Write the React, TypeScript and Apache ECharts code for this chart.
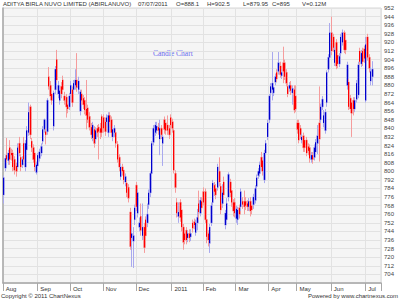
import React, { useEffect, useRef } from "react";
import * as echarts from "echarts";

// Month tick labels (Jan is shown as the year)
const MONTHS = ["Aug", "Sep", "Oct", "Nov", "Dec", "2011", "Feb", "Mar", "Apr", "May", "Jun", "Jul"];

// Daily candles per month: [open, close, low, high]
const AUG = [
  [778, 794, 770, 796], [803, 812, 800, 815], [815, 811, 808, 831], [810, 817, 806, 820],
  [822, 811, 806, 829], [817, 815, 810, 821], [817, 804, 800, 820], [811, 801, 797, 814],
  [805, 800, 795, 808], [804, 822, 802, 826], [826, 817, 814, 832], [813, 804, 800, 816],
  [806, 811, 803, 814], [826, 811, 808, 832], [804, 826, 800, 829], [820, 838, 818, 842],
  [836, 855, 833, 864], [860, 834, 830, 862], [828, 822, 818, 831], [822, 811, 808, 825],
  [817, 804, 800, 820], [799, 806, 797, 809],
];
const SEP = [
  [805, 815, 800, 817], [812, 818, 809, 821], [817, 823, 814, 826], [828, 839, 825, 842],
  [839, 848, 836, 849], [837, 834, 825, 840], [837, 866, 834, 868], [888, 879, 876, 897],
  [880, 870, 866, 884], [872, 866, 862, 876], [842, 873, 838, 875], [876, 895, 872, 898],
  [904, 885, 882, 913], [872, 880, 868, 884], [866, 875, 862, 878], [879, 872, 868, 883],
  [885, 876, 873, 889], [870, 866, 862, 874], [869, 860, 850, 872], [862, 858, 854, 866],
  [860, 870, 857, 873],
];
const OCT = [
  [872, 880, 868, 884], [876, 864, 860, 879], [876, 882, 872, 885], [880, 885, 876, 895],
  [885, 878, 874, 910], [876, 884, 872, 888], [856, 874, 852, 876], [872, 866, 862, 876],
  [868, 862, 858, 871], [866, 857, 853, 869], [858, 852, 839, 885], [859, 848, 845, 862],
  [851, 841, 838, 855], [841, 834, 830, 845], [831, 843, 828, 846], [839, 826, 822, 842],
  [830, 838, 826, 841], [840, 836, 832, 843], [841, 837, 811, 844], [840, 836, 830, 845],
  [851, 836, 832, 853],
];
const NOV = [
  [850, 840, 836, 853], [846, 837, 833, 850], [846, 850, 842, 853], [836, 852, 832, 855],
  [852, 846, 842, 855], [848, 836, 832, 851], [832, 839, 828, 842], [836, 840, 832, 843],
  [836, 826, 822, 839], [825, 811, 808, 828], [813, 804, 800, 816], [795, 804, 792, 807],
  [804, 800, 796, 807], [801, 792, 788, 804], [790, 795, 786, 798], [789, 780, 776, 792],
  [785, 775, 771, 788], [762, 730, 727, 766], [738, 742, 711, 755], [735, 740, 710, 748],
  [755, 766, 750, 769],
];
const DEC = [
  [787, 767, 763, 790], [761, 780, 757, 783], [748, 752, 744, 757], [758, 745, 740, 770],
  [740, 748, 736, 770], [748, 729, 724, 752], [755, 740, 736, 758], [752, 760, 748, 770],
  [769, 780, 765, 783], [780, 798, 776, 800], [798, 826, 795, 828], [827, 840, 824, 843],
  [836, 843, 833, 846], [838, 842, 835, 846], [841, 838, 834, 845], [830, 840, 815, 848],
  [840, 834, 830, 843], [826, 832, 805, 834], [848, 839, 835, 851], [845, 838, 834, 848],
  [843, 838, 834, 852], [840, 834, 830, 843], [850, 843, 840, 853],
];
const JAN = [
  [846, 840, 836, 849], [838, 801, 798, 840], [798, 785, 780, 801], [771, 761, 757, 775],
  [758, 762, 752, 771], [771, 757, 753, 774], [764, 748, 744, 767], [748, 734, 727, 751],
  [742, 736, 732, 746], [745, 736, 732, 748], [738, 742, 734, 745], [742, 738, 734, 746],
  [739, 742, 735, 746], [752, 747, 743, 755], [753, 750, 746, 756], [743, 752, 740, 755],
  [752, 757, 745, 765], [770, 762, 755, 782], [761, 773, 758, 776], [772, 766, 762, 776],
];
const FEB = [
  [781, 771, 768, 785], [781, 755, 752, 784], [755, 739, 733, 758], [742, 736, 730, 745],
  [733, 748, 724, 751], [752, 768, 749, 771], [771, 789, 768, 792], [787, 781, 777, 790],
  [784, 778, 774, 788], [785, 804, 782, 807], [800, 790, 786, 813], [786, 764, 760, 789],
  [770, 780, 766, 788], [790, 778, 774, 795], [750, 761, 746, 764], [755, 770, 752, 775],
  [776, 797, 772, 799], [790, 780, 776, 793], [782, 771, 767, 785], [771, 763, 758, 774],
  [771, 761, 757, 775],
];
const MAR = [
  [756, 765, 752, 768], [755, 764, 750, 767], [766, 760, 756, 769], [767, 781, 763, 784],
  [772, 769, 765, 776], [772, 767, 760, 782], [772, 768, 764, 776], [770, 767, 763, 773],
  [767, 772, 763, 775], [772, 763, 758, 776], [768, 764, 760, 771], [769, 776, 765, 779],
  [773, 784, 770, 787], [786, 794, 783, 797], [796, 800, 793, 803], [798, 806, 795, 809],
  [813, 804, 800, 818], [810, 800, 796, 813], [792, 817, 789, 820], [817, 826, 814, 829],
  [832, 845, 829, 848],
];
const APR = [
  [848, 870, 845, 872], [873, 879, 870, 882], [876, 882, 866, 911], [873, 878, 870, 881],
  [883, 888, 880, 891], [892, 886, 883, 895], [893, 901, 890, 911], [898, 890, 887, 902],
  [889, 892, 886, 895], [901, 893, 882, 916], [901, 888, 885, 904], [892, 882, 879, 895],
  [879, 872, 869, 882], [877, 880, 874, 883], [880, 875, 871, 884], [873, 877, 862, 880],
  [876, 857, 854, 880], [870, 858, 855, 880],
];
const MAY = [
  [845, 839, 835, 848], [845, 829, 826, 848], [840, 834, 830, 843], [829, 832, 826, 835],
  [833, 822, 818, 836], [829, 822, 818, 832], [829, 817, 814, 832], [823, 819, 815, 826],
  [822, 812, 808, 825], [811, 815, 808, 818], [815, 811, 807, 818], [813, 822, 810, 825],
  [818, 827, 815, 830], [826, 833, 816, 843], [845, 830, 809, 879], [848, 860, 845, 863],
  [860, 867, 857, 870], [845, 852, 841, 857], [838, 855, 835, 858], [864, 892, 860, 894],
  [895, 906, 892, 909], [906, 929, 903, 938],
];
const JUN = [
  [929, 912, 908, 944], [925, 915, 911, 928], [901, 913, 898, 916], [920, 898, 895, 923],
  [908, 900, 896, 911], [900, 907, 897, 910], [910, 925, 907, 928], [920, 929, 917, 932],
  [929, 913, 910, 931], [922, 913, 909, 925], [880, 899, 876, 902], [883, 860, 857, 886],
  [868, 858, 854, 871], [864, 854, 832, 867], [866, 858, 852, 869], [858, 866, 855, 869],
  [867, 882, 864, 885], [871, 899, 868, 902], [912, 902, 899, 915], [900, 910, 897, 913],
  [912, 902, 898, 915], [914, 905, 901, 917],
];
const JUL = [
  [866, 918, 864, 925], [925, 906, 903, 928], [906, 896, 892, 909], [884, 893, 880, 897],
  [888.1, 895, 879.95, 902.5],
];

const Y_TICKS_MIN = 704;
const Y_MIN = 696;
const Y_MAX = 952;
const Y_STEP = 8;
const PAD_DAYS = 5;

const FONT = "Liberation Sans, Arial, sans-serif";

export default function App() {
  const ref = useRef<HTMLDivElement>(null);

  useEffect(() => {
    if (!ref.current) return;
    const chart = echarts.init(ref.current, undefined, { renderer: "svg" });

    const monthsData = [AUG, SEP, OCT, NOV, DEC, JAN, FEB, MAR, APR, MAY, JUN, JUL];
    const cats: string[] = [];
    const all: number[][] = [];
    monthsData.forEach((arr, mi) => {
      arr.forEach((d, k) => {
        cats.push(`${MONTHS[mi]}|${k}`);
        all.push(d);
      });
    });
    for (let k = 0; k < PAD_DAYS; k++) cats.push(`~${k}`);

    const isMonthStart = (_i: number, v: string) => typeof v === "string" && v.endsWith("|0");

    const wickData = all.map(([o, c, l, h]) => [o, c, l, h]);
    const bodyData = all.map(([o, c]) => [o, c, Math.min(o, c), Math.max(o, c)]);

    const txt = (text: string, x: number, y: number, extra: any = {}) => ({
      type: "text",
      x,
      y,
      silent: true,
      style: {
        text,
        fill: "#333",
        fontSize: 6,
        fontFamily: FONT,
        verticalAlign: "middle",
        ...extra,
      },
    });

    chart.setOption({
      animation: false,
      backgroundColor: "#ffffff",
      grid: {
        left: 3,
        right: 19,
        top: 8,
        bottom: 17,
        show: true,
        backgroundColor: "#f5f5f5",
        borderColor: "#d6d6d6",
        borderWidth: 1,
      },
      xAxis: {
        type: "category",
        data: cats,
        boundaryGap: true,
        axisLine: { show: true, lineStyle: { color: "#a8a8a8", width: 1.5 } },
        axisTick: { show: true, interval: isMonthStart, length: 8, lineStyle: { color: "#a8a8a8" } },
        axisLabel: {
          interval: isMonthStart,
          formatter: (v: string) => v.split("|")[0],
          align: "left",
          fontSize: 6,
          color: "#333",
          fontFamily: FONT,
          margin: 3,
          padding: [0, 0, 0, 2],
        },
        splitLine: { show: true, interval: isMonthStart, lineStyle: { color: "#e2e2e2", width: 1 } },
      },
      yAxis: [
        {
          type: "value",
          position: "right",
          min: Y_MIN,
          max: Y_MAX,
          interval: Y_STEP,
          axisLine: { show: false },
          axisTick: { show: false },
          axisLabel: {
            fontSize: 6,
            color: "#444",
            fontFamily: FONT,
            margin: 3,
            formatter: (v: number) => (v < Y_TICKS_MIN ? "" : String(v)),
          },
          splitLine: { show: true, lineStyle: { color: "#e2e2e2", width: 1 } },
        },
        {
          type: "value",
          position: "left",
          min: Y_MIN,
          max: Y_MAX,
          interval: Y_STEP,
          axisLine: { show: true, lineStyle: { color: "#a8a8a8", width: 1.5 } },
          axisTick: { show: false },
          axisLabel: { show: false },
          splitLine: { show: false },
        },
      ],
      series: [
        {
          type: "candlestick",
          yAxisIndex: 0,
          data: wickData,
          barWidth: 2,
          itemStyle: {
            color: "#b8b8f2",
            color0: "#f8b0b0",
            borderColor: "#a9a9ee",
            borderColor0: "#f59c9c",
            borderWidth: 1,
          },
        },
        {
          type: "candlestick",
          yAxisIndex: 0,
          data: bodyData,
          barWidth: 1,
          itemStyle: {
            color: "#0000cc",
            color0: "#ff0000",
            borderColor: "#0000cc",
            borderColor0: "#ff0000",
            borderWidth: 1,
          },
        },
      ],
      graphic: [
        txt("ADITYA BIRLA NUVO LIMITED (ABIRLANUVO)", 3, 4),
        txt("07/07/2011", 138, 4),
        txt("O=888.1", 176, 4),
        txt("H=902.5", 207, 4),
        txt("L=879.95", 243, 4),
        txt("C=895", 272, 4),
        txt("V=0.12M", 302, 4),
        txt("Candle Chart", 153, 53, {
          fill: "#6b6bee",
          fontSize: 7.5,
          fontFamily: "Liberation Serif, Times New Roman, serif",
        }),
        txt("Copyright \u00a9 2011 ChartNexus", 1, 296),
        txt("Powered by www.chartnexus.com", 398, 296, { align: "right" }),
      ],
    });

    return () => chart.dispose();
  }, []);

  return (
    <div
      ref={ref}
      style={{ position: "absolute", left: 0, top: 0, width: 400, height: 300 }}
    />
  );
}
